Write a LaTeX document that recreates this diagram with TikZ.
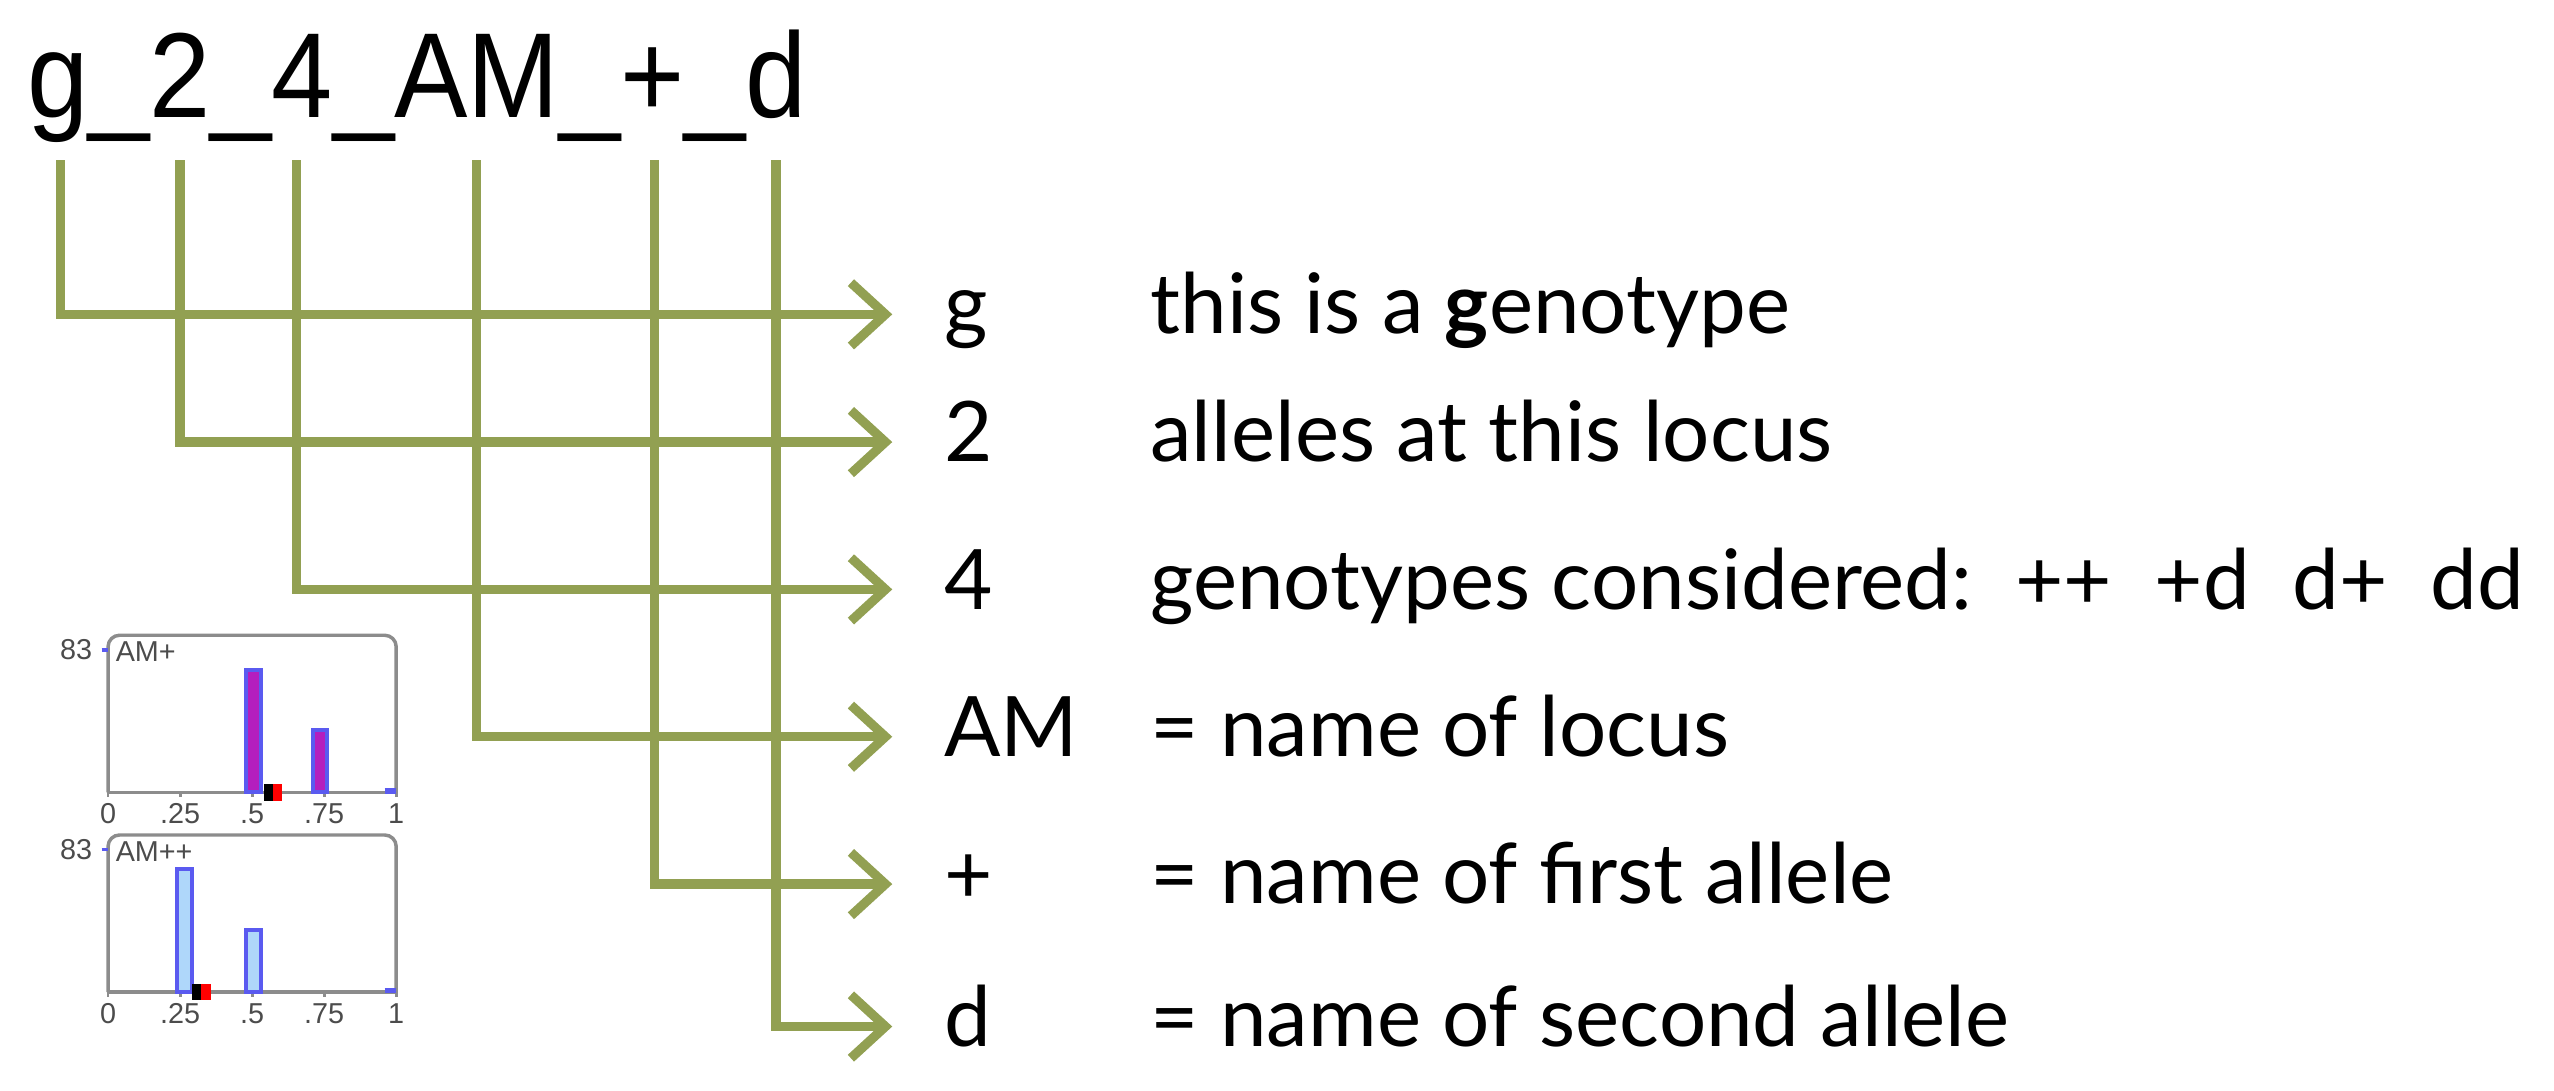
\documentclass[tikz,border=0pt]{standalone}
\usepackage{fontspec}
\setmainfont{Lato}
\newfontfamily\arialf{Liberation Sans}
\usetikzlibrary{arrows.meta}
\definecolor{olive}{RGB}{146,160,82}
\definecolor{barpurple}{RGB}{180,30,190}
\definecolor{barblue}{RGB}{175,215,250}
\definecolor{edgeblue}{RGB}{90,90,240}
\tikzset{
  conn/.style={draw=olive,line width=1.6pt,-{Straight Barb[length=6pt,width=11pt,line width=1.6pt]}},
  lbl/.style={anchor=base west,inner sep=0pt,font=\fontsize{14.5}{17}\selectfont},
  tiny/.style={font=\arialf\fontsize{5}{6}\selectfont,text=black!70,inner sep=0pt},
  frame/.style={draw=black!45,line width=0.6pt,rounded corners=2pt},
}
\begin{document}
\begin{tikzpicture}[x=0.01cm,y=-0.01cm]
\useasboundingbox (0,0) rectangle (1560,666);
\node[anchor=base west,inner sep=0pt,font=\arialf\fontsize{21}{24}\selectfont,xscale=0.91] (title) at (16,72) {g\_2\_4\_AM\_+\_d};
\foreach \n/\x in {a/37,b/110,c/181,d/291,e/400,f/474}{\coordinate (t\n) at (\x,98);}
\foreach \n/\y/\k/\t in {a/192/g/{this is a \textbf{g}enotype},b/270/2/{alleles at this locus},c/360/4/{genotypes considered:\ \ ++\ \ +d\ \ d+\ \ dd},d/450/AM/{= name of locus},e/540/+/{= name of first allele},f/627/d/{= name of second allele}}{
  \node[lbl] (k\n) at (576,\y+12) {\k};
  \node[lbl] (s\n) at (702,\y+12) {\t};
  \coordinate (h\n) at (545,\y);
}
\foreach \n in {a,b,c,d,e,f}{\draw[conn] (t\n) |- (h\n);}
\foreach \top/\base/\lab in {388/484/AM+,510/606/AM++}{
  \draw[frame] (66,\base) -- (66,\top) -- (242,\top) -- (242,\base);
  \draw[black!45,line width=0.6pt] (66,\base) -- (242,\base);
  \foreach \v/\t in {0/0,0.25/.25,0.5/.5,0.75/.75,1/1}{
    \draw[black!45,line width=0.5pt] (66+176*\v,\base) -- (66+176*\v,\base+3);
    \node[tiny] at (66+176*\v,\base+13) {\t};}
  \node[tiny,anchor=east] at (57,\top+9) {83};
  \draw[edgeblue,line width=0.6pt] (62,\top+9) -- (66,\top+9);
  \node[tiny,anchor=west] at (70,\top+10) {\lab};
  \draw[edgeblue,line width=1pt] (235,\base-1) -- (242,\base-1);
}
\draw[edgeblue,fill=barpurple,line width=0.7pt] (150,484) rectangle (159.5,409);
\draw[edgeblue,fill=barpurple,line width=0.7pt] (191,484) rectangle (200,446);
\fill[black] (161,479) rectangle (166.5,489); \fill[red] (166.5,479) rectangle (172,489);
\draw[edgeblue,fill=barblue,line width=0.7pt] (108,606) rectangle (117,531);
\draw[edgeblue,fill=barblue,line width=0.7pt] (150,606) rectangle (159.5,568);
\fill[black] (117,601) rectangle (123,611); \fill[red] (123,601) rectangle (129,611);
\end{tikzpicture}
\end{document}
